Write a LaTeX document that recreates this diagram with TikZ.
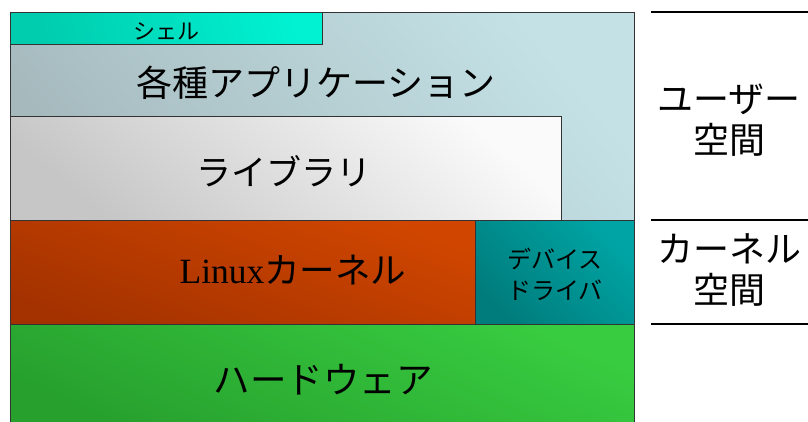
\documentclass[tikz,border=0pt]{standalone}
\usepackage{fontspec}
\setmainfont{Noto Sans CJK JP}
\newfontfamily\latinserif{Liberation Serif}
\definecolor{appdark}{HTML}{A6BABE}
\definecolor{applight}{HTML}{C4E2E6}
\definecolor{libdark}{HTML}{C6C6C6}
\definecolor{liblight}{HTML}{FAFAFA}
\definecolor{shdark}{HTML}{00CCAE}
\definecolor{shlight}{HTML}{00F2D2}
\definecolor{kerndark}{HTML}{A43200}
\definecolor{kernlight}{HTML}{D04600}
\definecolor{drvdark}{HTML}{007C7C}
\definecolor{drvlight}{HTML}{00A4A4}
\definecolor{hwdark}{HTML}{27A02E}
\definecolor{hwlight}{HTML}{38CC40}
\begin{document}
\begin{tikzpicture}[x=1pt,y=-1pt,
  box/.style={draw=black!80,line width=1pt},
  lab/.style={inner sep=0pt,anchor=center},
  sep/.style={draw=black,line width=1.2pt}]
\useasboundingbox (0,0) rectangle (808,421);
% application area
\shade[box,top color=applight,bottom color=appdark,shading angle=-50] (10,12) rectangle (634,220);
\shade[box,top color=liblight,bottom color=libdark,shading angle=-40] (10,116) rectangle (561,220);
\shade[box,top color=shlight,bottom color=shdark,shading angle=-75] (10,12) rectangle (322,44);
% kernel row
\shade[box,top color=kernlight,bottom color=kerndark,shading angle=-20] (10,220) rectangle (475,324);
\shade[box,top color=drvlight,bottom color=drvdark,shading angle=-45] (475,220) rectangle (634,324);
% hardware
\shade[box,top color=hwlight,bottom color=hwdark,shading angle=-25] (10,324) rectangle (634,426);
% texts
\node[lab,font=\fontsize{22}{22}\selectfont] (shell) at (166,31) {シェル};
\node[lab,font=\fontsize{36}{36}\selectfont] (apps) at (316,83) {各種アプリケーション};
\node[lab,font=\fontsize{35}{35}\selectfont] (lib) at (284,171) {ライブラリ};
\node[lab,font=\fontsize{35.5}{36}\selectfont] (kern) at (293,270) {{\latinserif Linux}カーネル};
\node[lab,font=\fontsize{24}{24}\selectfont,align=center] (drv) at (555,274) {デバイス\\[7pt]ドライバ};
\node[lab,font=\fontsize{36.5}{37}\selectfont] (hw) at (323,380) {ハードウェア};
\node[lab,font=\fontsize{36}{36}\selectfont,align=center] (us) at (729,120) {ユーザー\\[5pt]空間};
\node[lab,font=\fontsize{36}{36}\selectfont,align=center] (ks) at (729,270) {カーネル\\[5pt]空間};
% separators
\coordinate (s1a) at (651,12); \coordinate (s1b) at (808,12);
\coordinate (s2a) at (651,220); \coordinate (s2b) at (808,220);
\coordinate (s3a) at (651,324); \coordinate (s3b) at (808,324);
\draw[sep] (s1a) -- (s1b);
\draw[sep] (s2a) -- (s2b);
\draw[sep] (s3a) -- (s3b);
\end{tikzpicture}
\end{document}
